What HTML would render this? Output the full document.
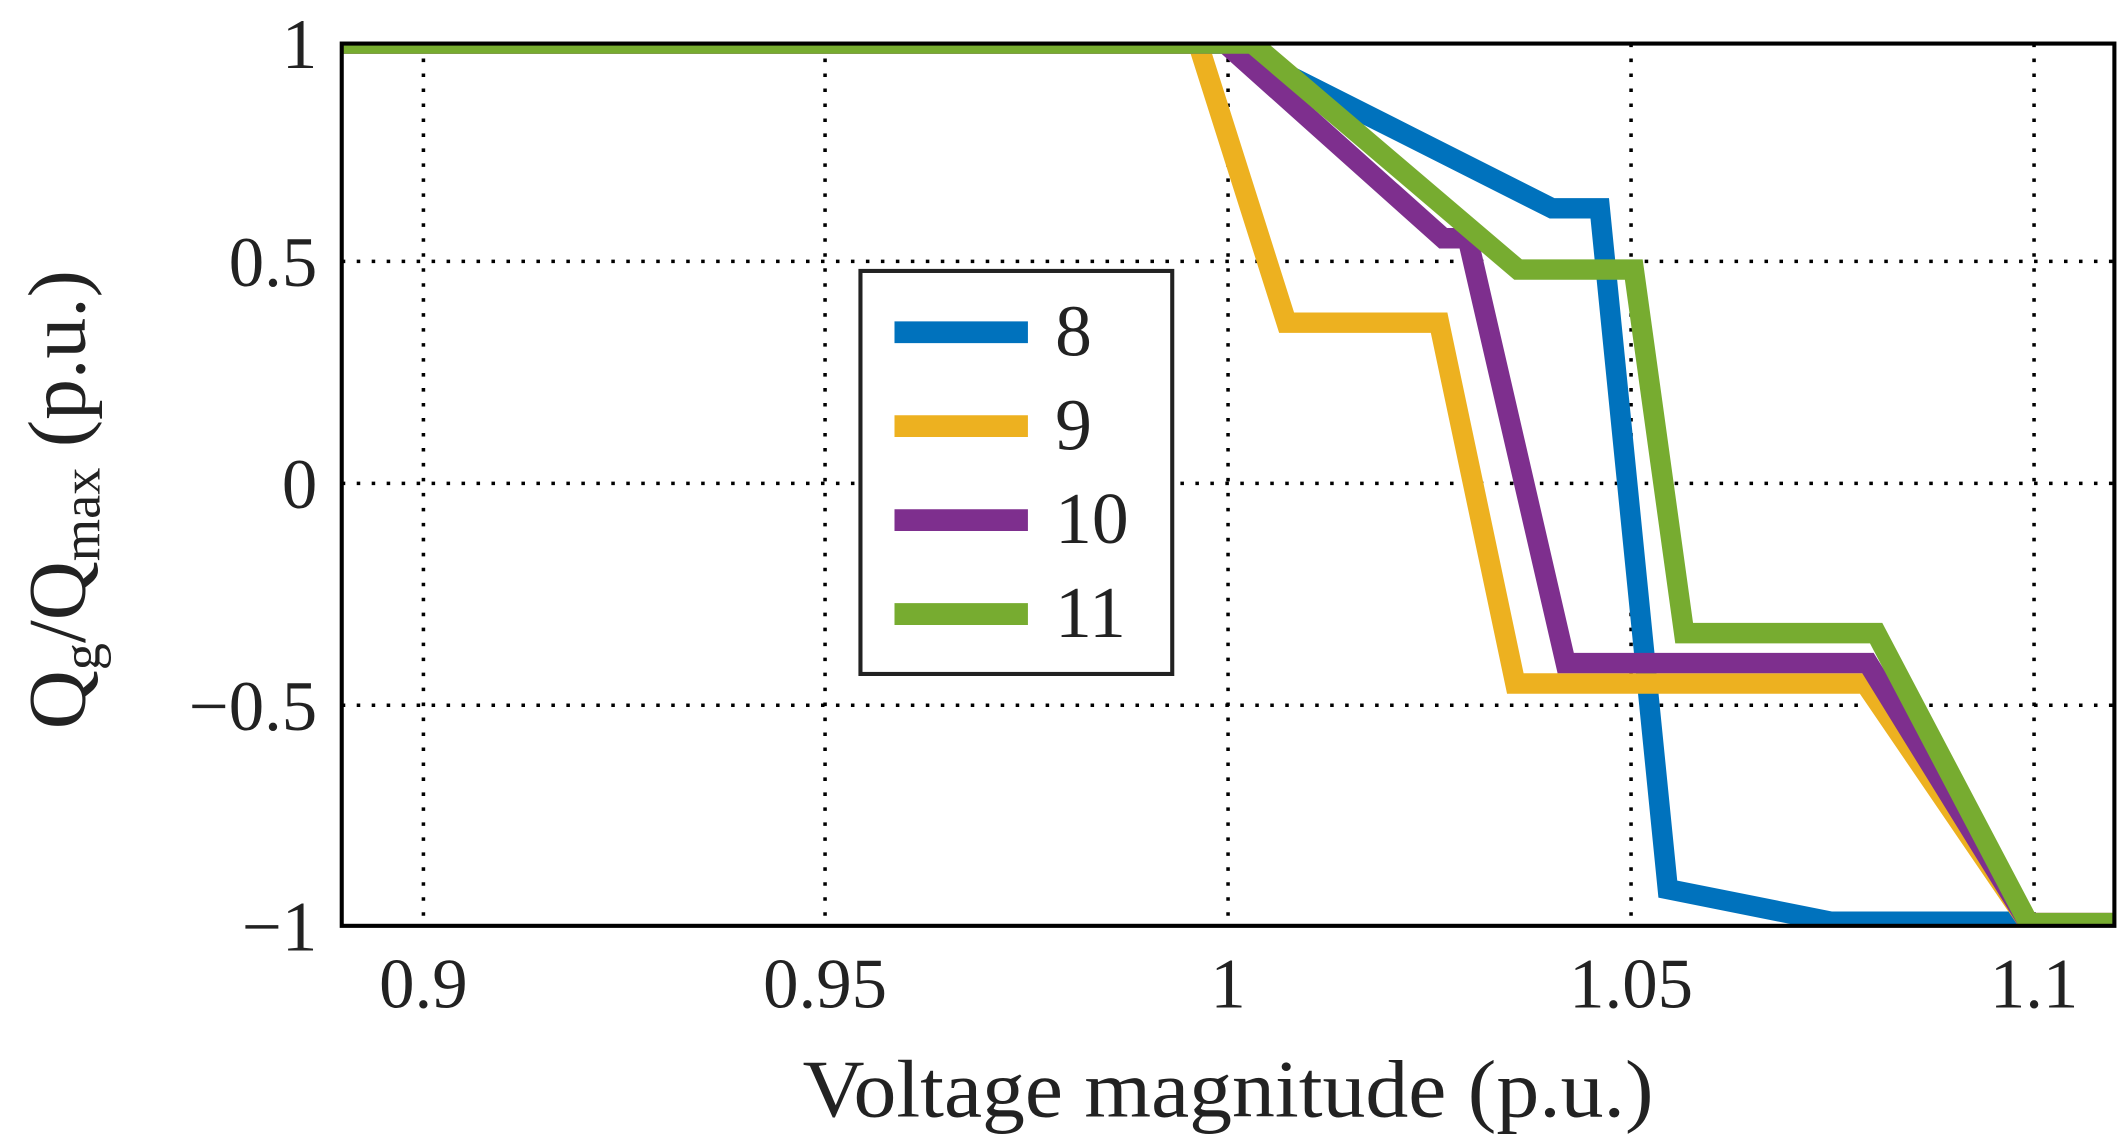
<!DOCTYPE html>
<html><head><meta charset="utf-8"><style>html,body{margin:0;padding:0;background:#fff}svg{display:block}</style></head>
<body>
<svg width="2128" height="1143" viewBox="0 0 1563 839.5" preserveAspectRatio="none" xmlns="http://www.w3.org/2000/svg" font-family="'Liberation Serif', serif" fill="#222">
<defs><clipPath id="c"><rect x="251" y="32" width="1302" height="648"/></clipPath></defs>
<g stroke="#000" stroke-width="2.6" stroke-dasharray="2.6,8.4">
<line x1="311" y1="32" x2="311" y2="680"/><line x1="606" y1="32" x2="606" y2="680"/><line x1="902" y1="32" x2="902" y2="680"/><line x1="1198" y1="32" x2="1198" y2="680"/><line x1="1494" y1="32" x2="1494" y2="680"/>
<line x1="251" y1="192" x2="1553" y2="192"/><line x1="251" y1="355" x2="1553" y2="355"/><line x1="251" y1="518" x2="1553" y2="518"/>
</g>
<g clip-path="url(#c)" fill="none" stroke-width="15" stroke-linejoin="miter">
<polyline stroke="#0072bd" points="251,32 900,32 1140,153 1175,153 1225,653 1345,677 1483,677 1490,690"/>
<polyline stroke="#edb120" points="251,32 880,32 945,237 1057,237 1113,502 1370,502 1490,678 1560,678"/>
<polyline stroke="#7e2f8e" points="251,32 900,32 1060,175 1078,175 1150,487 1372,487 1490,678 1560,678"/>
<polyline stroke="#77ac30" points="251,32 920,32 1115,198 1200,198 1237,465 1378,465 1490,678 1560,678"/>
</g>
<rect x="251" y="32" width="1302" height="648" fill="none" stroke="#000" stroke-width="3"/>
<rect x="632" y="199" width="229" height="296" fill="#fff" stroke="#222" stroke-width="3"/>
<g stroke-width="16"><line x1="657" y1="244" x2="755" y2="244" stroke="#0072bd"/><line x1="657" y1="313" x2="755" y2="313" stroke="#edb120"/><line x1="657" y1="382" x2="755" y2="382" stroke="#7e2f8e"/><line x1="657" y1="451" x2="755" y2="451" stroke="#77ac30"/></g>
<g font-size="54"><text x="775" y="261">8</text><text x="775" y="330">9</text><text x="775" y="399">10</text><text x="775" y="468">11</text></g>
<g font-size="52" text-anchor="end"><text x="233" y="50">1</text><text x="233" y="210">0.5</text><text x="233" y="373">0</text><text x="233" y="536">−0.5</text><text x="233" y="698">−1</text></g>
<g font-size="52" text-anchor="middle"><text x="311" y="740">0.9</text><text x="606" y="740">0.95</text><text x="902" y="740">1</text><text x="1198" y="740">1.05</text><text x="1494" y="740">1.1</text></g>
<text x="902" y="820" font-size="60" text-anchor="middle" textLength="625" lengthAdjust="spacingAndGlyphs">Voltage magnitude (p.u.)</text>
<text transform="translate(62,367) rotate(-90)" font-size="60" text-anchor="middle">Q<tspan font-size="40" dy="11">g</tspan><tspan dy="-11">/Q</tspan><tspan font-size="40" dy="11">max</tspan><tspan dy="-11"> (p.u.)</tspan></text>
</svg>
</body></html>
